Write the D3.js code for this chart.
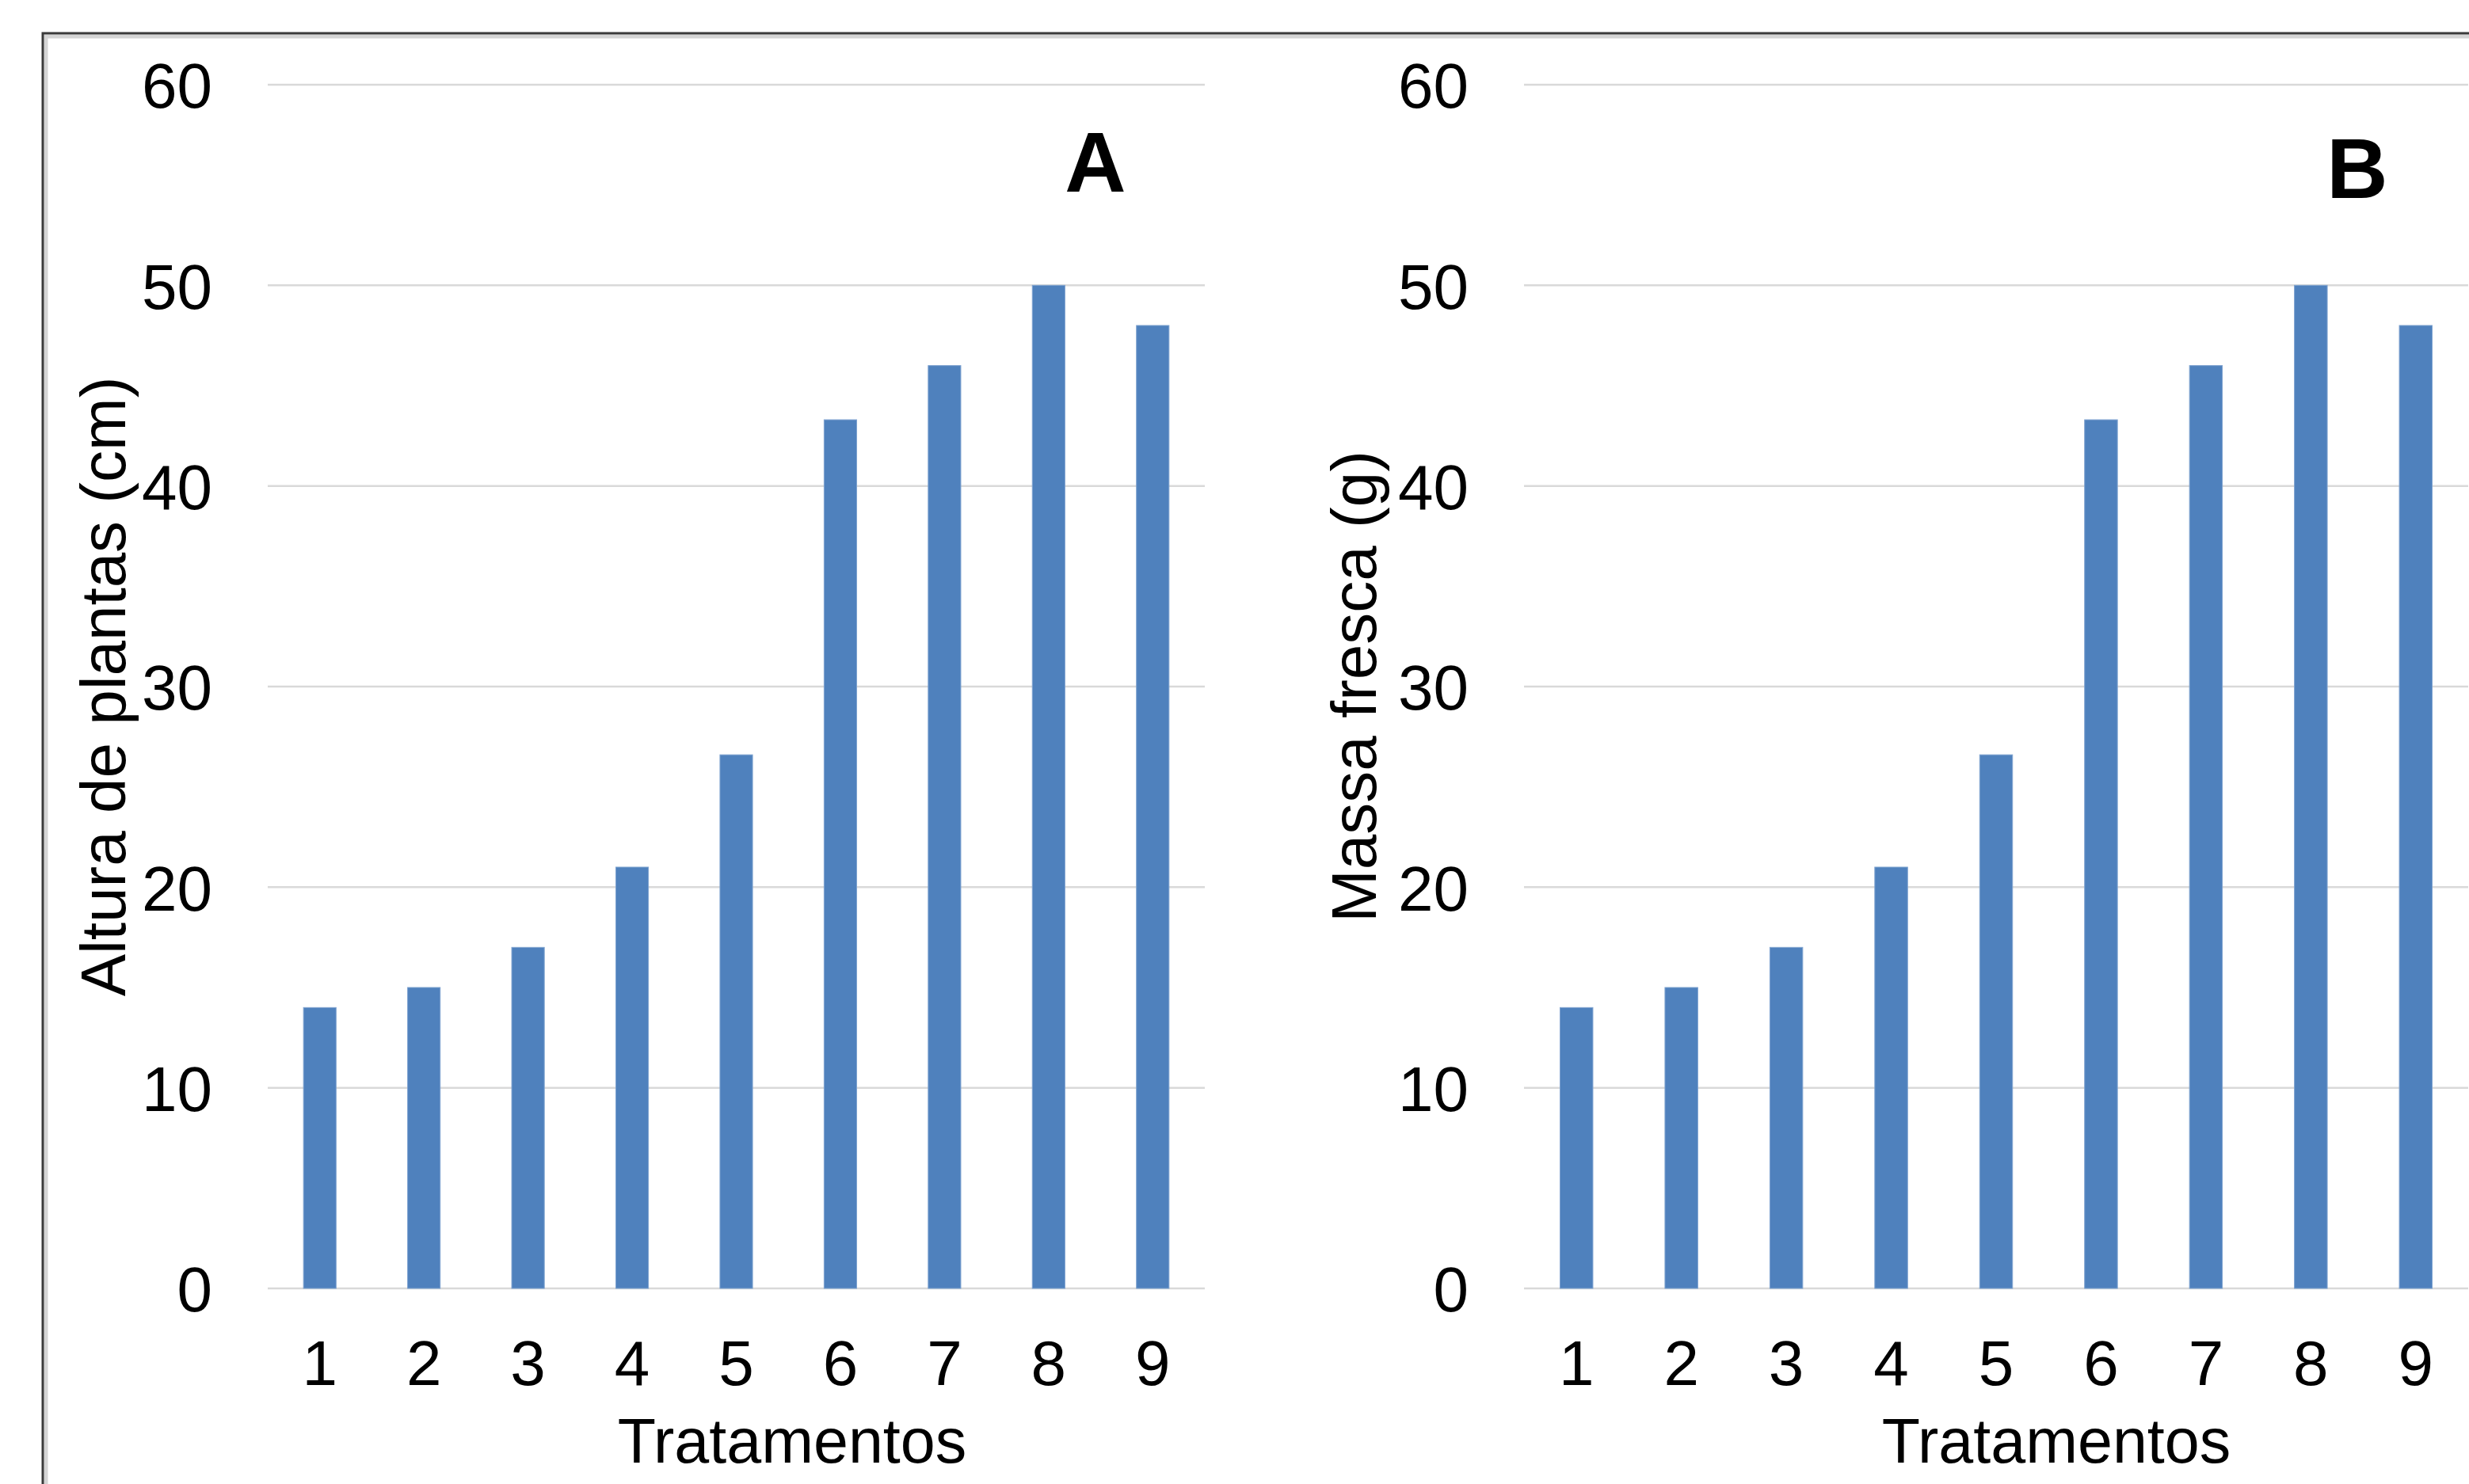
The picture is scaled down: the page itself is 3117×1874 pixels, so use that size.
<!DOCTYPE html>
<html>
<head>
<meta charset="utf-8">
<script src="https://cdn.jsdelivr.net/npm/d3@7"></script>
<style>
  html, body { margin: 0; padding: 0; background: #fff; overflow: hidden; }
  svg { display: block; font-family: "Liberation Sans", Arial, sans-serif; }
</style>
</head>
<body>
<script>
const categories = ["1", "2", "3", "4", "5", "6", "7", "8", "9"];
const alturaValues = [14, 15, 17, 21, 26.6, 43.3, 46, 50, 48];
const massaValues = [14, 15, 17, 21, 26.6, 43.3, 46, 50, 48];
const yTicks = [0, 10, 20, 30, 40, 50, 60];
const panelLetters = ["A", "B"];
const yTitles = ["Altura de plantas (cm)", "Massa fresca (g)"];
const xTitle = "Tratamentos";

const W = 3117, H = 1874;
const svg = d3.select("body").append("svg").attr("width", W).attr("height", H);

// chart-area frame with soft shadow
const frame = svg.append("g");
frame.append("rect").attr("x", 58).attr("y", 46).attr("width", W).attr("height", H)
  .attr("fill", "none").attr("stroke", "#d4d4d4").attr("stroke-width", 5);
frame.append("rect").attr("x", 54).attr("y", 42).attr("width", W).attr("height", H)
  .attr("fill", "none").attr("stroke", "#3a3a3a").attr("stroke-width", 3);

const panels = [
  { x0: 338, x1: 1521, values: alturaValues, letter: panelLetters[0], letterX: 1383, letterY: 242, yTitle: yTitles[0], yTitleX: 158, xTitleX: 1000 },
  { x0: 1924, x1: 3116, values: massaValues, letter: panelLetters[1], letterX: 2976, letterY: 250, yTitle: yTitles[1], yTitleX: 1737, xTitleX: 2596 }
];
const yTop = 107, yBottom = 1627;

panels.forEach(p => {
  const g = svg.append("g");
  const x = d3.scaleBand().domain(categories).range([p.x0, p.x1]).paddingInner(0.687).paddingOuter(0.3435);
  const y = d3.scaleLinear().domain([0, 60]).range([yBottom, yTop]);

  // gridlines
  g.append("g").selectAll("line").data(yTicks).join("line")
    .attr("x1", p.x0).attr("x2", p.x1)
    .attr("y1", d => y(d)).attr("y2", d => y(d))
    .attr("stroke", "#d9d9d9").attr("stroke-width", 2.5);

  // y axis labels
  const yAxis = d3.axisLeft(y).tickValues(yTicks).tickSize(0).tickPadding(70);
  const ya = g.append("g").attr("transform", `translate(${p.x0},0)`).call(yAxis);
  ya.select(".domain").remove();
  ya.selectAll("text").attr("font-size", 80).attr("fill", "#000")
    .attr("font-family", "Liberation Sans, Arial, sans-serif").attr("dy", "0.36em");

  // x axis labels
  const xAxis = d3.axisBottom(x).tickSize(0).tickPadding(66);
  const xa = g.append("g").attr("transform", `translate(0,${yBottom})`).call(xAxis);
  xa.select(".domain").remove();
  xa.selectAll("text").attr("font-size", 80).attr("fill", "#000")
    .attr("font-family", "Liberation Sans, Arial, sans-serif").attr("dy", "0").attr("y", 122);

  // bars
  g.append("g").selectAll("rect").data(p.values).join("rect")
    .attr("x", (d, i) => x(categories[i]))
    .attr("width", x.bandwidth())
    .attr("y", d => y(d))
    .attr("height", d => y(0) - y(d))
    .attr("fill", "#4f81bd")
    .attr("stroke", "#7fa3d0").attr("stroke-width", 1);

  // panel letter
  g.append("text").attr("x", p.letterX).attr("y", p.letterY)
    .attr("text-anchor", "middle").attr("font-size", 107).attr("font-weight", "bold")
    .attr("fill", "#000").text(p.letter);

  // y title
  g.append("text")
    .attr("transform", `translate(${p.yTitleX},${(yTop + yBottom) / 2}) rotate(-90)`)
    .attr("text-anchor", "middle").attr("font-size", 80).attr("fill", "#000")
    .text(p.yTitle);

  // x title
  g.append("text").attr("x", p.xTitleX).attr("y", 1847)
    .attr("text-anchor", "middle").attr("font-size", 79).attr("fill", "#000")
    .text(xTitle);
});
</script>
</body>
</html>
